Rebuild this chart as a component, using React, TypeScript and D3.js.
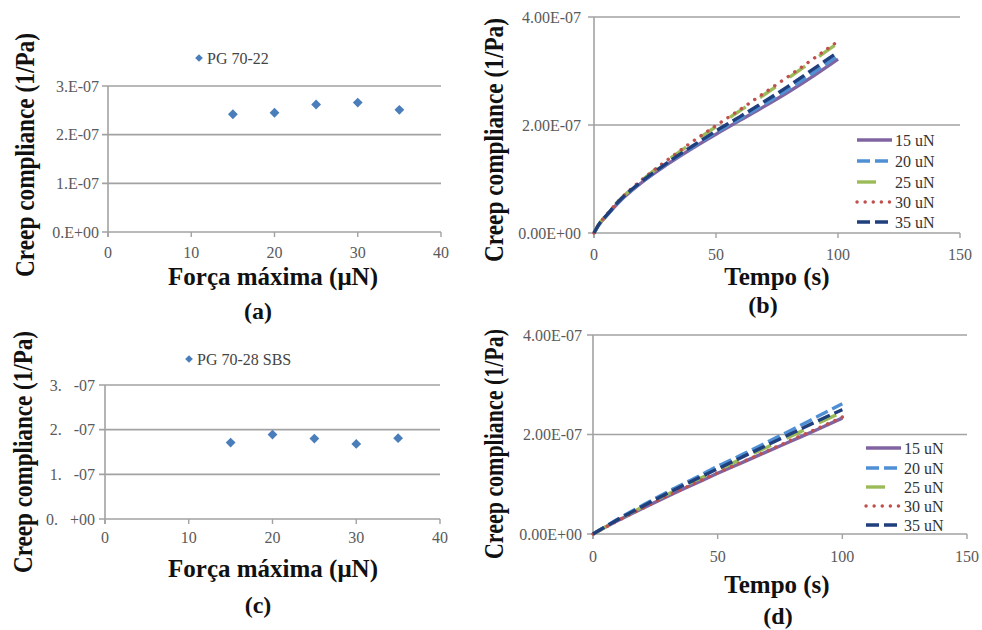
import React from "react";
import * as d3 from "d3";

const W = 982;
const H = 630;
const FONT = "Liberation Serif";

// ---------- data ----------
const forceValues = [15, 20, 25, 30, 35];
const complianceA = [2.42e-7, 2.45e-7, 2.62e-7, 2.66e-7, 2.51e-7];
const complianceC = [1.71e-7, 1.89e-7, 1.8e-7, 1.68e-7, 1.81e-7];

const forceTicks = [0, 10, 20, 30, 40];
const scatterYTicks = [0, 1e-7, 2e-7, 3e-7];
const scatterYLabelsA = ["0.E+00", "1.E-07", "2.E-07", "3.E-07"];
const scatterYLabelsC = ["0.   +00", "1.   -07", "2.   -07", "3.   -07"];

const timeTicks = [0, 50, 100, 150];
const creepYTicks = [0, 2e-7, 4e-7];
const creepYLabels = ["0.00E+00", "2.00E-07", "4.00E-07"];

const seriesNames = ["15 uN", "20 uN", "25 uN", "30 uN", "35 uN"];

const timeB = [0, 2, 5, 10, 20, 30, 40, 50, 60, 70, 80, 90, 100];
const b15 = [0, 0.15e-7, 0.31e-7, 0.56e-7, 0.95e-7, 1.27e-7, 1.56e-7, 1.83e-7, 2.09e-7, 2.35e-7, 2.62e-7, 2.91e-7, 3.22e-7];
const b20 = [0, 0.15e-7, 0.31e-7, 0.57e-7, 0.96e-7, 1.29e-7, 1.58e-7, 1.86e-7, 2.12e-7, 2.39e-7, 2.67e-7, 2.97e-7, 3.28e-7];
const b25 = [0, 0.16e-7, 0.33e-7, 0.59e-7, 0.99e-7, 1.34e-7, 1.66e-7, 1.97e-7, 2.27e-7, 2.57e-7, 2.88e-7, 3.2e-7, 3.52e-7];
const b30 = [0, 0.16e-7, 0.33e-7, 0.59e-7, 1.0e-7, 1.35e-7, 1.68e-7, 1.99e-7, 2.29e-7, 2.6e-7, 2.91e-7, 3.23e-7, 3.55e-7];
const b35 = [0, 0.16e-7, 0.32e-7, 0.58e-7, 0.97e-7, 1.3e-7, 1.6e-7, 1.89e-7, 2.16e-7, 2.44e-7, 2.73e-7, 3.04e-7, 3.35e-7];

const timeD = [0, 10, 20, 30, 40, 50, 60, 70, 80, 90, 100];
const d15 = [0, 0.27e-7, 0.52e-7, 0.76e-7, 0.99e-7, 1.22e-7, 1.44e-7, 1.66e-7, 1.88e-7, 2.1e-7, 2.33e-7];
const d20 = [0, 0.3e-7, 0.58e-7, 0.85e-7, 1.1e-7, 1.36e-7, 1.6e-7, 1.85e-7, 2.1e-7, 2.36e-7, 2.62e-7];
const d25 = [0, 0.28e-7, 0.55e-7, 0.8e-7, 1.05e-7, 1.28e-7, 1.52e-7, 1.75e-7, 1.98e-7, 2.22e-7, 2.45e-7];
const d30 = [0, 0.27e-7, 0.52e-7, 0.77e-7, 1.0e-7, 1.23e-7, 1.45e-7, 1.67e-7, 1.9e-7, 2.12e-7, 2.35e-7];
const d35 = [0, 0.29e-7, 0.56e-7, 0.82e-7, 1.07e-7, 1.31e-7, 1.55e-7, 1.79e-7, 2.03e-7, 2.27e-7, 2.5e-7];

// ---------- styles ----------
const GRID = "#a2a2a2";
const TICK_TEXT = "#5a5a5a";
const MARKER = "#4a7ebb";
const lineStyles = [
  { color: "#8064a2", dash: "none", cap: "butt" },
  { color: "#4f8fd3", dash: "13 5", cap: "butt" },
  { color: "#9bbb59", dash: "19 17", cap: "butt" },
  { color: "#c0504d", dash: "0.1 8", cap: "round" },
  { color: "#1f3f7d", dash: "13 5", cap: "butt" },
];

type PanelCfg = {
  x0: number; x1: number; y0: number; y1: number;
  xDomain: [number, number]; yDomain: [number, number];
  xTicks: number[]; yTicks: number[]; yLabels: string[];
  labelGap: number; xLabelY: number;
  xTitle: string; xTitleX: number; xTitleY: number;
  yTitleX: number; yTitleY: number; yTitleLen: number;
  tag: string; tagX: number; tagY: number;
};

function Frame({ c, x, y }: { c: PanelCfg; x: d3.ScaleLinear<number, number>; y: d3.ScaleLinear<number, number> }) {
  return (
    <g>
      {c.yTicks.map((t, i) => (
        <g key={"y" + i}>
          <line x1={c.x0 - 6} x2={c.x1} y1={y(t)} y2={y(t)} stroke={GRID} strokeWidth={1.6} />
          <text x={c.x0 - c.labelGap} y={y(t)} dy="0.35em" textAnchor="end" fontSize={16} fontFamily={FONT}
            fill={TICK_TEXT} style={{ whiteSpace: "pre" }}>{c.yLabels[i]}</text>
        </g>
      ))}
      <line x1={c.x0} x2={c.x0} y1={y(c.yDomain[1])} y2={y(0) + 5} stroke={GRID} strokeWidth={1.6} />
      {c.xTicks.map((t, i) => (
        <g key={"x" + i}>
          <line x1={x(t)} x2={x(t)} y1={y(0)} y2={y(0) + 5} stroke={GRID} strokeWidth={1.4} />
          <text x={x(t)} y={c.xLabelY} textAnchor="middle" fontSize={16} fontFamily={FONT} fill={TICK_TEXT}>{t}</text>
        </g>
      ))}
      <text x={c.xTitleX} y={c.xTitleY} textAnchor="middle" fontSize={25} fontFamily={FONT} fontWeight="bold" fill="#111">{c.xTitle}</text>
      <text transform={`translate(${c.yTitleX},${c.yTitleY}) rotate(-90) scale(1,1.1)`} textAnchor="middle" fontSize={24} fontFamily={FONT}
        fontWeight="bold" fill="#111" textLength={c.yTitleLen} lengthAdjust="spacingAndGlyphs">Creep compliance (1/Pa)</text>
      <text x={c.tagX} y={c.tagY} textAnchor="middle" fontSize={24} fontFamily={FONT} fontWeight="bold" fill="#111">{c.tag}</text>
    </g>
  );
}

function Scatter({ c, values, legend, legendX, legendY }: { c: PanelCfg; values: number[]; legend: string; legendX: number; legendY: number }) {
  const x = d3.scaleLinear().domain(c.xDomain).range([c.x0, c.x1]);
  const y = d3.scaleLinear().domain(c.yDomain).range([c.y0, c.y1]);
  const sym = d3.symbol().type(d3.symbolSquare).size(48)() as string;
  return (
    <g>
      <Frame c={c} x={x} y={y} />
      {forceValues.map((f, i) => (
        <path key={i} d={sym} transform={`translate(${x(f)},${y(values[i])}) rotate(45)`} fill={MARKER} />
      ))}
      <path d={d3.symbol().type(d3.symbolSquare).size(30)() as string} transform={`translate(${legendX},${legendY}) rotate(45)`} fill={MARKER} />
      <text x={legendX + 8} y={legendY} dy="0.35em" fontSize={16} fontFamily={FONT} fill="#444">{legend}</text>
    </g>
  );
}

function Creep({ c, times, series, legX, legY }: { c: PanelCfg; times: number[]; series: number[][]; legX: number; legY: number[] }) {
  const x = d3.scaleLinear().domain(c.xDomain).range([c.x0, c.x1]);
  const y = d3.scaleLinear().domain(c.yDomain).range([c.y0, c.y1]);
  const line = d3.line<number>().x((_, i) => x(times[i])).y((v) => y(v)).curve(d3.curveMonotoneX);
  return (
    <g>
      <Frame c={c} x={x} y={y} />
      {series.map((s, k) => (
        <path key={k} d={line(s) as string} fill="none" stroke={lineStyles[k].color} strokeWidth={3.4}
          strokeDasharray={lineStyles[k].dash} strokeLinecap={lineStyles[k].cap as any} />
      ))}
      {seriesNames.map((n, k) => (
        <g key={n}>
          <line x1={legX} x2={legX + 35} y1={legY[k]} y2={legY[k]} stroke={lineStyles[k].color} strokeWidth={3.4}
            strokeDasharray={lineStyles[k].dash} strokeLinecap={lineStyles[k].cap as any} />
          <text x={legX + 38} y={legY[k]} dy="0.35em" fontSize={16} fontFamily={FONT} fill="#333">{n}</text>
        </g>
      ))}
    </g>
  );
}

const panelA: PanelCfg = {
  x0: 108, x1: 441, y0: 232, y1: 86, xDomain: [0, 40], yDomain: [0, 3e-7],
  xTicks: forceTicks, yTicks: scatterYTicks, yLabels: scatterYLabelsA, labelGap: 9, xLabelY: 258,
  xTitle: "Força máxima (μN)", xTitleX: 273, xTitleY: 285,
  yTitleX: 34, yTitleY: 155, yTitleLen: 244, tag: "(a)", tagX: 258, tagY: 319,
};
const panelB: PanelCfg = {
  x0: 594, x1: 960, y0: 233, y1: 17, xDomain: [0, 150], yDomain: [0, 4e-7],
  xTicks: timeTicks, yTicks: creepYTicks, yLabels: creepYLabels, labelGap: 13, xLabelY: 260,
  xTitle: "Tempo (s)", xTitleX: 777, xTitleY: 285,
  yTitleX: 503, yTitleY: 140, yTitleLen: 244, tag: "(b)", tagX: 763, tagY: 313,
};
const panelC: PanelCfg = {
  x0: 105, x1: 440, y0: 519, y1: 385, xDomain: [0, 40], yDomain: [0, 3e-7],
  xTicks: forceTicks, yTicks: scatterYTicks, yLabels: scatterYLabelsC, labelGap: 10, xLabelY: 543,
  xTitle: "Força máxima (μN)", xTitleX: 273, xTitleY: 577,
  yTitleX: 32, yTitleY: 452, yTitleLen: 242, tag: "(c)", tagX: 258, tagY: 613,
};
const panelD: PanelCfg = {
  x0: 593, x1: 967, y0: 534, y1: 335, xDomain: [0, 150], yDomain: [0, 4e-7],
  xTicks: timeTicks, yTicks: creepYTicks, yLabels: creepYLabels, labelGap: 11, xLabelY: 562,
  xTitle: "Tempo (s)", xTitleX: 777, xTitleY: 593,
  yTitleX: 503, yTitleY: 444, yTitleLen: 230, tag: "(d)", tagX: 778, tagY: 624,
};

export default function App() {
  return (
    <svg width={W} height={H} fontFamily={FONT} style={{ position: "absolute", left: 0, top: 0 }}>
      <rect width={W} height={H} fill="#fff" />
      <Scatter c={panelA} values={complianceA} legend="PG 70-22" legendX={199} legendY={58} />
      <Creep c={panelB} times={timeB} series={[b15, b20, b25, b30, b35]} legX={857} legY={[140, 161, 182, 202, 222]} />
      <Scatter c={panelC} values={complianceC} legend="PG 70-28 SBS" legendX={189} legendY={359} />
      <Creep c={panelD} times={timeD} series={[d15, d20, d25, d30, d35]} legX={866} legY={[448, 468, 487, 506, 525]} />
    </svg>
  );
}
